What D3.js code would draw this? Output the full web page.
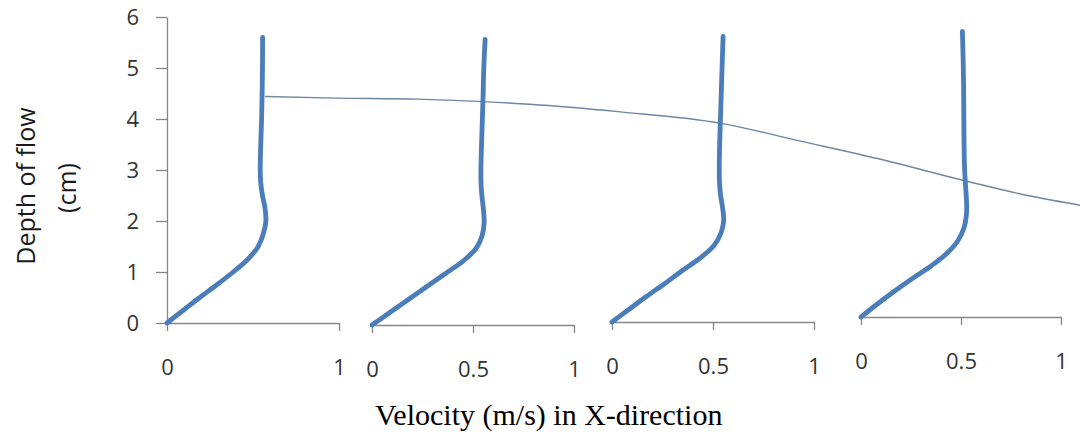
<!DOCTYPE html>
<html>
<head>
<meta charset="utf-8">
<script src="https://cdn.jsdelivr.net/npm/d3@7/dist/d3.min.js"></script>
<style>
  body { margin: 0; background: #fff; }
  svg { display: block; }
</style>
</head>
<body>
<script>
// depth of flow (cm) where the velocities were read, same for all four profiles
const depths = [0, 0.25, 0.5, 0.75, 1, 1.25, 1.5, 1.75, 2, 2.25, 2.5, 2.75, 3, 3.5, 4, 4.5, 5, 5.6];

// velocity (m/s) of each profile, station 1 .. 4
const velocity1 = [0, 0.095, 0.19, 0.29, 0.385, 0.47, 0.53, 0.56, 0.575, 0.57, 0.555, 0.545, 0.542, 0.545, 0.55, 0.553, 0.555, 0.556];
const velocity2 = [0, 0.09, 0.18, 0.27, 0.36, 0.45, 0.515, 0.545, 0.555, 0.552, 0.545, 0.54, 0.539, 0.542, 0.546, 0.55, 0.553, 0.56];
const velocity3 = [0, 0.085, 0.17, 0.26, 0.345, 0.435, 0.505, 0.54, 0.553, 0.547, 0.537, 0.532, 0.531, 0.533, 0.537, 0.541, 0.545, 0.55];
const velocity4 = [0, 0.08, 0.165, 0.255, 0.35, 0.43, 0.485, 0.515, 0.527, 0.528, 0.524, 0.52, 0.517, 0.515, 0.514, 0.513, 0.511, 0.507];

// water surface, position along the flume (0 = first profile, 1 = right edge) and depth (cm)
const surfacePos   = [0, 0.088, 0.187, 0.267, 0.325, 0.436, 0.558, 0.656, 0.758, 0.856, 0.942, 1];
const surfaceDepth = [4.44, 4.41, 4.39, 4.34, 4.29, 4.14, 3.92, 3.57, 3.2, 2.8, 2.48, 2.31];

const yTicks = [0, 1, 2, 3, 4, 5, 6];
const xTicksFirst = [0, 1];
const xTicks = [0, 0.5, 1];

const width = 1080, height = 439;
const pxPerCm = 51;

const svg = d3.select("body")
  .append("svg")
  .attr("width", width)
  .attr("height", height);

// the four small charts were pasted side by side, so they don't line up exactly
const panels = [
  { left: 167, right: 339, base: 323, ticks: xTicksFirst, vel: velocity1 },
  { left: 372, right: 574, base: 325, ticks: xTicks, vel: velocity2 },
  { left: 612, right: 814, base: 322, ticks: xTicks, vel: velocity3 },
  { left: 861, right: 1061, base: 317, ticks: xTicks, vel: velocity4 }
];

const axisColor = "#868686";
const profileColor = "#4a7dba";

panels.forEach(function(p) {
  p.x = d3.scaleLinear().domain([0, 1]).range([p.left, p.right]);
  p.y = d3.scaleLinear().domain([0, 6]).range([p.base, p.base - 6 * pxPerCm]);
});

// water surface line (under the profiles)
const sx = d3.scaleLinear().domain([0, 1]).range([265, 1080]);
const surface = surfacePos.map(function(d, i) { return { p: d, d: surfaceDepth[i] }; });
svg.append("path")
  .datum(surface)
  .attr("fill", "none")
  .attr("stroke", "#6f86a0")
  .attr("stroke-width", 1.4)
  .attr("d", d3.line()
    .x(function(d) { return sx(d.p); })
    .y(function(d) { return panels[0].y(d.d); })
    .curve(d3.curveMonotoneX));

panels.forEach(function(p, i) {
  const g = svg.append("g");

  // x axis
  g.append("g")
    .attr("transform", "translate(0," + p.base + ")")
    .call(d3.axisBottom(p.x)
      .tickValues(p.ticks)
      .tickSize(8)
      .tickSizeOuter(0)
      .tickPadding(28)
      .tickFormat(d3.format("")));

  // y axis only on the first chart
  if (i == 0) {
    g.append("g")
      .attr("transform", "translate(" + p.left + ",0)")
      .call(d3.axisLeft(p.y)
        .tickValues(yTicks)
        .tickSize(11)
        .tickSizeOuter(0)
        .tickPadding(17)
        .tickFormat(d3.format("")));
  }

  const line = d3.line()
    .x(function(d) { return p.x(d.v); })
    .y(function(d) { return p.y(d.d); })
    .curve(d3.curveCatmullRom.alpha(0.5));

  g.append("path")
    .datum(depths.map(function(d, k) { return { d: d, v: p.vel[k] }; }))
    .attr("fill", "none")
    .attr("stroke", profileColor)
    .attr("stroke-width", 4.8)
    .attr("stroke-linecap", "round")
    .attr("d", line);
});

svg.selectAll(".domain, .tick line")
  .attr("stroke", axisColor)
  .attr("stroke-width", 1.3);
svg.selectAll(".tick text")
  .attr("fill", "#333")
  .style("font-family", "'Open Sans', sans-serif")
  .style("font-size", "22px");

// axis titles
svg.append("text")
  .attr("transform", "translate(25,186) rotate(-90)")
  .attr("text-anchor", "middle")
  .attr("dominant-baseline", "central")
  .style("font-family", "'Open Sans', sans-serif")
  .style("font-size", "25px")
  .attr("fill", "#1a1a1a")
  .text("Depth of flow");

svg.append("text")
  .attr("transform", "translate(66,188) rotate(-90)")
  .attr("text-anchor", "middle")
  .attr("dominant-baseline", "central")
  .style("font-family", "'Open Sans', sans-serif")
  .style("font-size", "25px")
  .attr("fill", "#1a1a1a")
  .text("(cm)");

svg.append("text")
  .attr("x", 375)
  .attr("y", 425)
  .style("font-family", "'Liberation Serif', 'Times New Roman', serif")
  .style("font-size", "30px")
  .attr("fill", "#000")
  .text("Velocity (m/s) in X-direction");
</script>
</body>
</html>
